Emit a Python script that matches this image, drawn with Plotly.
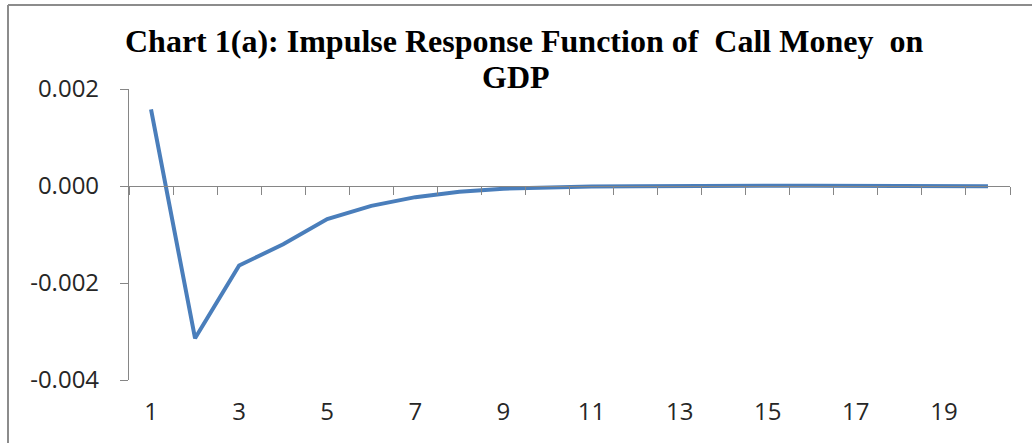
import plotly.graph_objects as go

periods = list(range(1, 21))
response = [0.00158, -0.00314, -0.00164, -0.00120, -0.00068, -0.00041, -0.00023, -0.00012,
            -0.000055, -0.00003, -0.00001, -0.000005, 0.000005, 0.000006, 0.000006, 0.000006,
            0.000005, -0.000002, -0.000002, -0.000003]
x_tick_vals = periods[::2]
x_tick_text = [str(p) for p in x_tick_vals]
y_tick_vals = [-0.004, -0.002, 0.0, 0.002]
y_tick_text = ["-0.004", "-0.002", "0.000", "0.002"]
title_line1 = "Chart 1(a): Impulse Response Function of  Call Money  on"
title_line2 = "GDP"

W, H = 1032, 443
L, R, T, B = 129, 22, 89, 63
pw, ph = W - L - R, H - T - B

def px_x(p):
    return (p - L) / pw

def px_y(p):
    return (H - B - p) / ph

axis_gray = "#868686"
tick_font = dict(family="Open Sans", size=24, color="#262626")
title_font = dict(family="Liberation Serif", size=32, color="#000000")

fig = go.Figure()
fig.add_trace(go.Scatter(x=periods, y=response, mode="lines",
                         line=dict(color="#4A7EBB", width=4),
                         showlegend=False, hoverinfo="skip"))
# transparent copy bound to the zero-crossing category axis so that axis is drawn
fig.add_trace(go.Scatter(x=periods, y=response, mode="lines", xaxis="x2",
                         line=dict(color="rgba(0,0,0,0)", width=0),
                         showlegend=False, hoverinfo="skip"))

# category boundary ticks: half a step either side of each period
boundary_ticks = [p - 0.5 for p in periods] + [periods[-1] + 0.5]

fig.update_layout(
    width=W, height=H,
    margin=dict(l=L, r=R, t=T, b=B),
    paper_bgcolor="white", plot_bgcolor="white",
    xaxis=dict(range=[periods[0] - 0.5, periods[-1] + 0.5],
               tickvals=x_tick_vals, ticktext=x_tick_text,
               showline=False, showgrid=False, zeroline=False,
               ticks="", ticklabelstandoff=15,
               tickfont=tick_font),
    xaxis2=dict(range=[periods[0] - 0.5, periods[-1] + 0.5], overlaying="x",
                anchor="free", position=2/3,
                tickvals=boundary_ticks, showticklabels=False,
                showline=True, linecolor=axis_gray, linewidth=1.2,
                ticks="outside", ticklen=8, tickcolor=axis_gray, tickwidth=1.2,
                showgrid=False, zeroline=False),
    yaxis=dict(range=[y_tick_vals[0], y_tick_vals[-1]],
               tickvals=y_tick_vals, ticktext=y_tick_text,
               showline=True, linecolor=axis_gray, linewidth=1.2,
               ticks="outside", ticklen=8, tickcolor=axis_gray, tickwidth=1.2,
               ticklabelstandoff=16,
               showgrid=False, zeroline=False, tickfont=tick_font),
)

fig.add_annotation(text="<b>" + title_line1 + "</b>", xref="paper", yref="paper",
                   x=px_x(524), y=px_y(41), xanchor="center", yanchor="middle",
                   borderpad=0, showarrow=False, font=title_font)
fig.add_annotation(text="<b>" + title_line2 + "</b>", xref="paper", yref="paper",
                   x=px_x(516), y=px_y(77), xanchor="center", yanchor="middle",
                   borderpad=0, showarrow=False, font=title_font)

# chart frame (left and top edges visible)
fig.add_shape(type="line", xref="paper", yref="paper", x0=px_x(8), x1=px_x(8),
              y0=px_y(H + 5), y1=px_y(5), line=dict(color="#8c8c8c", width=2))
fig.add_shape(type="line", xref="paper", yref="paper", x0=px_x(8), x1=px_x(W + 5),
              y0=px_y(5), y1=px_y(5), line=dict(color="#8c8c8c", width=2))

fig.write_html("out.html", config={"displayModeBar": False},
               post_script="document.body.style.margin='0';")
